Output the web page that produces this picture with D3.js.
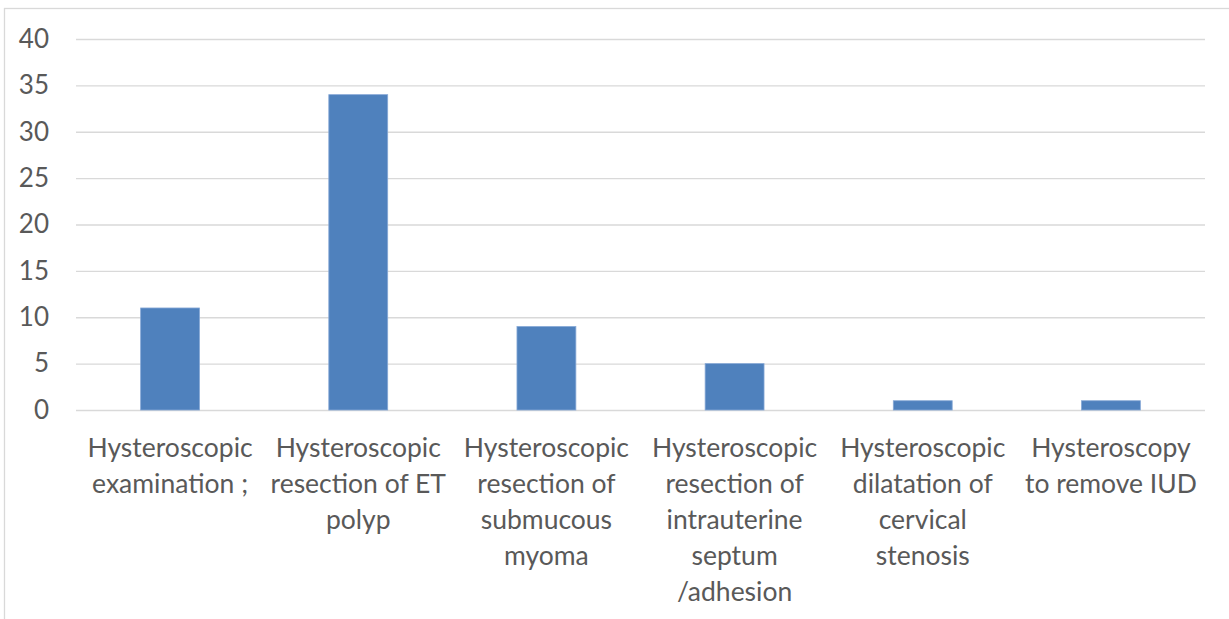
<!DOCTYPE html>
<html>
<head>
<meta charset="utf-8">
<script src="https://cdn.jsdelivr.net/npm/d3@7"></script>
<style>
  body { margin: 0; background: #fff; }
  text { font-family: Lato, "Open Sans", sans-serif; fill: #595959; }
</style>
</head>
<body>
<div id="chart"></div>
<script>
// categories, one entry per line of the wrapped label
let categories = [
  ["Hysteroscopic", "examination ;"],
  ["Hysteroscopic", "resection of ET", "polyp"],
  ["Hysteroscopic", "resection of", "submucous", "myoma"],
  ["Hysteroscopic", "resection of", "intrauterine", "septum", "/adhesion"],
  ["Hysteroscopic", "dilatation of", "cervical", "stenosis"],
  ["Hysteroscopy", "to remove IUD"]
];
let values = [11, 34, 9, 5, 1, 1];
let yTicks = [0, 5, 10, 15, 20, 25, 30, 35, 40];

let W = 1229, H = 619;
let margin = {top: 39, right: 24, bottom: 209, left: 76},
    width = W - margin.left - margin.right,
    height = H - margin.top - margin.bottom;

let svg = d3.select("#chart")
  .append("svg")
    .attr("width", W)
    .attr("height", H);

// chart area border
svg.append("rect")
  .attr("x", 4.5).attr("y", 8.5)
  .attr("width", 1230).attr("height", 700)
  .attr("fill", "none")
  .attr("stroke", "#d9d9d9")
  .attr("stroke-width", 1.3);

let g = svg.append("g")
  .attr("transform", "translate(" + margin.left + "," + margin.top + ")");

let keys = categories.map(function(d, i) { return i; });

let x = d3.scaleBand()
  .domain(keys)
  .range([0, width])
  .padding(0);

let y = d3.scaleLinear()
  .domain([0, 40])
  .range([height, 0]);

// gridlines
g.append("g")
  .call(d3.axisLeft(y).tickValues(yTicks).tickSize(-width).tickFormat(""))
  .call(function(s) {
    s.select(".domain").remove();
    s.selectAll("line").attr("stroke", "#d9d9d9").attr("stroke-width", 1.3);
  });

// y tick labels
g.append("g")
  .call(d3.axisLeft(y).tickValues(yTicks).tickSize(0).tickPadding(27))
  .call(function(s) {
    s.select(".domain").remove();
    s.selectAll("text")
      .attr("font-size", 26)
      .attr("fill", "#595959")
      .style("font-family", "Lato, 'Open Sans', sans-serif");
  });

// bars (Excel gap width ~219%)
let barW = x.bandwidth() * 0.313;
g.selectAll("rect.bar")
  .data(values)
  .enter()
  .append("rect")
    .attr("class", "bar")
    .attr("x", function(d, i) { return x(i) + (x.bandwidth() - barW) / 2; })
    .attr("y", function(d) { return y(d); })
    .attr("width", barW)
    .attr("height", function(d) { return height - y(d); })
    .attr("fill", "#4f81bd")
    .attr("stroke", "#86a8d6")
    .attr("stroke-width", 0.8);

// x category labels
let xAxis = g.append("g")
  .attr("transform", "translate(0," + height + ")")
  .call(d3.axisBottom(x).tickSize(0).tickFormat(""));
xAxis.select(".domain").remove();

xAxis.selectAll(".tick").each(function(i) {
  let t = d3.select(this).append("text")
    .attr("text-anchor", "middle")
    .attr("font-size", 26.5)
    .attr("fill", "#595959")
    .style("font-family", "Lato, 'Open Sans', sans-serif");
  categories[i].forEach(function(line, k) {
    t.append("tspan")
      .attr("x", 0)
      .attr("y", 47 + k * 36)
      .text(line);
  });
});
</script>
</body>
</html>
